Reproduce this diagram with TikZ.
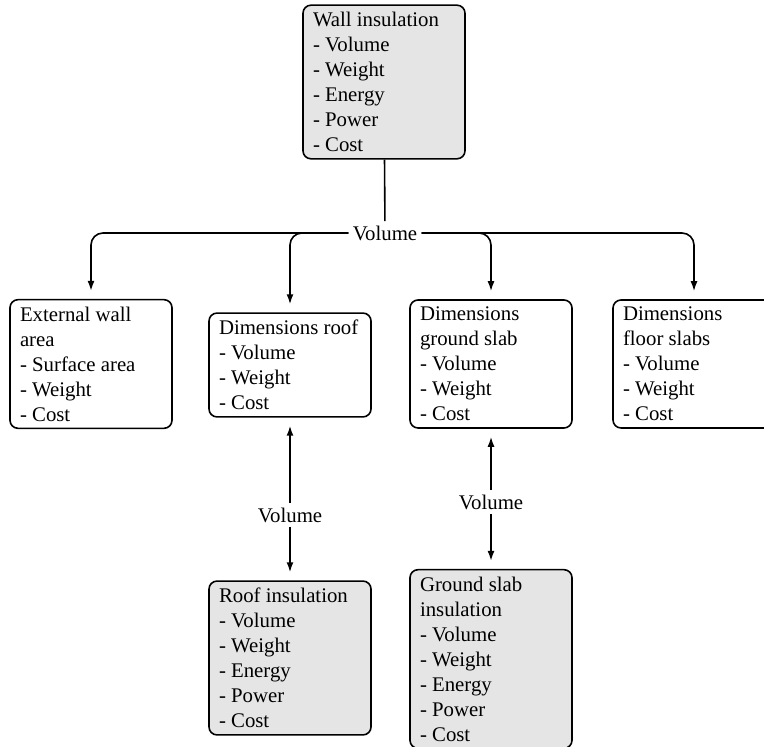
\documentclass[tikz,border=0pt]{standalone}
\usepackage{fontspec}
\setmainfont{Liberation Serif}
\usetikzlibrary{arrows.meta, positioning}

\begin{document}
\begin{tikzpicture}[
      x=0.5pt, y=-0.5pt,  % pixel grid of the sketch
      every node/.style={font=\fontsize{10.4}{12.5}\selectfont},
      item/.style={rectangle, draw, thick, rounded corners=4pt, align=flush left, text width=71pt, inner xsep=5pt, inner ysep=3.5pt},
      insul/.style={item, fill=black!10},
      link/.style={draw, thick, -{Latex[length=5pt,width=3.5pt]}, shorten >=4pt},
      flow/.style={fill=white, inner sep=2pt}
    ]
    \useasboundingbox (0,0) rectangle (764,747);

    % Top: wall insulation
    \node[insul] (wall) at (384,82) {Wall insulation\\- Volume\\- Weight\\- Energy\\- Power\\- Cost};

    % Middle row: dimensions
    \node[item] (ext) at (91,364) {External wall area\\- Surface area\\- Weight\\- Cost};
    \node[item] (roof) at (290,365) {Dimensions roof\\- Volume\\- Weight\\- Cost};
    \node[item] (ground) at (491,364) {Dimensions ground slab\\- Volume\\- Weight\\- Cost};
    \node[item] (floor) at (694,364) {Dimensions floor slabs\\- Volume\\- Weight\\- Cost};

    % Bottom row: insulation
    \node[insul] (roofins) at (290,658) {Roof insulation\\- Volume\\- Weight\\- Energy\\- Power\\- Cost};
    \node[insul] (groundins) at (491,659) {Ground slab insulation\\- Volume\\- Weight\\- Energy\\- Power\\- Cost};

    % Flow labels
    \node[flow] (volW) at (385,233) {Volume};
    \node[flow] (volR) at (290,515) {Volume};
    \node[flow] (volG) at (491,502) {Volume};

    \draw[thick] (wall) -- (volW);
    \draw[link, rounded corners=6pt] (volW.west) -| (ext);
    \draw[link, rounded corners=6pt] (volW.west) -| (roof);
    \draw[link, rounded corners=6pt] (volW.east) -| (ground);
    \draw[link, rounded corners=6pt] (volW.east) -| (floor);

    \draw[link] (volR) -- (roof);
    \draw[link] (volR) -- (roofins);
    \draw[link] (volG) -- (ground);
    \draw[link] (volG) -- (groundins);
  \end{tikzpicture}
\end{document}
